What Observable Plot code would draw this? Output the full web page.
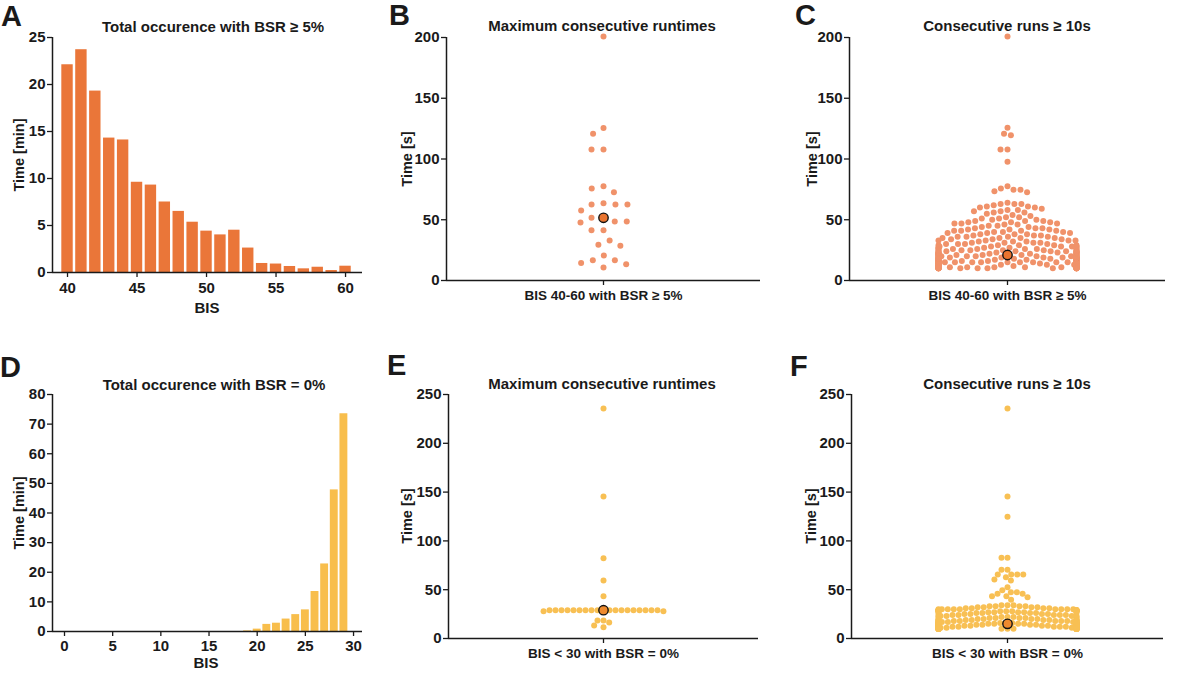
<!DOCTYPE html>
<html>
<head>
<meta charset="utf-8">
<script src="https://cdn.jsdelivr.net/npm/d3@7"></script>
<script src="https://cdn.jsdelivr.net/npm/@observablehq/plot@0.6"></script>
<style>
  body { margin: 0; background: #fff; }
  #root { position: relative; width: 1200px; height: 677px; overflow: hidden; background: #fff;
          font-family: "Liberation Sans", Arial, sans-serif; color: #1a1a1a; }
  .t { position: absolute; white-space: nowrap; font-weight: bold; line-height: 1; }
  .p { position: absolute; }
</style>
</head>
<body>
<div id="root"></div>
<script>
// ---------------- DATA ----------------
// Panel A: total occurrence with BSR >= 5% (minutes per BIS value)
const bisA = [40, 41, 42, 43, 44, 45, 46, 47, 48, 49, 50, 51, 52, 53, 54, 55, 56, 57, 58, 59, 60];
const timeA = [22.1, 23.7, 19.3, 14.3, 14.1, 9.6, 9.3, 7.5, 6.5, 5.35, 4.4, 4.0, 4.5, 2.6, 0.96, 0.9, 0.64, 0.39, 0.56, 0.21, 0.67];

// Panel D: total occurrence with BSR = 0% (minutes per BIS value)
const bisD = [0, 1, 2, 3, 4, 5, 6, 7, 8, 9, 10, 11, 12, 13, 14, 15, 16, 17, 18, 19, 20, 21, 22, 23, 24, 25, 26, 27, 28, 29];
const timeD = [0, 0, 0, 0, 0, 0, 0, 0, 0, 0, 0, 0, 0, 0, 0, 0, 0, 0, 0, 0.2, 0.8, 2.4, 2.8, 4.2, 5.7, 7.3, 13.5, 22.8, 47.8, 73.5];

// Panel B: maximum consecutive runtimes, BIS 40-60 with BSR >= 5% (seconds)
const maxRunsB = [200.8, 125.6, 120.7, 107.8, 107.8, 77.6, 75.7, 72.7, 63.6, 62.5, 62.5, 62.5, 57.6, 52, 51.6,
  48.6, 48.6, 47.7, 41.4, 41.4, 32.9, 29.4, 28.5, 20.6, 16.7, 16.7, 14.5, 13.4, 10.7];

// Panel C: consecutive runs >= 10 s, BIS 40-60 with BSR >= 5% (seconds)
const runsC = [200.8, 125.7, 120.7, 119.6, 107.8, 107.8, 97.7, 77.6, 75.7, 74.6, 74.6, 73.5, 72.7,
  64, 63, 63, 63, 62, 61, 61, 60, 60, 59, 58, 58, 57, 57, 56, 56, 55, 54, 53, 52, 52, 51, 51, 50, 50,
  49, 49, 49, 48, 48, 48, 47, 47, 47, 46, 46, 45, 45, 44, 44, 43, 43, 43, 42, 42, 42, 41, 41, 41, 41, 40, 40, 40,
  39, 39, 39, 38, 38, 38, 37, 37, 37, 36, 36, 36, 36, 35, 35, 35, 35, 34, 34, 34, 33, 33, 33, 33, 32, 32, 32,
  31, 31, 31, 31, 30, 30, 30, 30,
  29, 29, 29, 29, 29, 28, 28, 28, 28, 28, 27, 27, 27, 27, 27, 26, 26, 26, 26, 26, 26, 25, 25, 25, 25, 25, 25,
  24, 24, 24, 24, 24, 24, 24, 23, 23, 23, 23, 23, 23, 23, 22, 22, 22, 22, 22, 22, 22, 22,
  21, 21, 21, 21, 21, 21, 21, 21, 20, 20, 20, 20, 20, 20, 20, 20, 20,
  19, 19, 19, 19, 19, 19, 19, 19, 19, 19, 18, 18, 18, 18, 18, 18, 18, 18, 18, 18, 18,
  17, 17, 17, 17, 17, 17, 17, 17, 17, 17, 17, 17, 16, 16, 16, 16, 16, 16, 16, 16, 16, 16, 16, 16, 16,
  15, 15, 15, 15, 15, 15, 15, 15, 15, 15, 15, 15, 15, 14, 14, 14, 14, 14, 14, 14, 14, 14, 14, 14, 14, 14, 14,
  13, 13, 13, 13, 13, 13, 13, 13, 13, 13, 13, 13, 13, 13, 13, 12, 12, 12, 12, 12, 12, 12, 12, 12, 12, 12, 12, 12, 12, 12, 12,
  11, 11, 11, 11, 11, 11, 11, 11, 11, 11, 11, 11, 11, 11, 11, 11, 11,
  10, 10, 10, 10, 10, 10, 10, 10, 10, 10, 10, 10, 10, 10, 10, 10, 10, 10];

// Panel E: maximum consecutive runtimes, BIS < 30 with BSR = 0% (seconds)
const maxRunsE = [235.7, 145.5, 82.3, 59.4, 43.4,
  29, 29, 29, 29, 29, 29, 29, 29, 29, 29, 29, 29, 29, 29, 29, 29, 29, 29, 29, 28, 28,
  18.4, 18.4, 16.4, 13.3, 11.6];

// Panel F: consecutive runs >= 10 s, BIS < 30 with BSR = 0% (seconds)
const runsF = [235.7, 145.5, 124.7, 82.7, 82.7, 70.4, 70.4, 65.6, 65.6, 65.6, 65.6, 62.8, 60.5, 59.4, 52.6,
  49.5, 47.5, 47.5, 45.8, 45.8, 43.4, 43.4, 42.3, 39.6,
  34, 34, 34, 33, 33, 33, 33, 32, 32, 32, 32, 31, 31, 31, 31,
  30, 30, 30, 30, 30, 30, 30, 30, 30, 29, 29, 29, 29, 29, 29, 29, 29, 29, 29, 28, 28, 28, 28, 28, 28, 28, 28,
  27, 27, 27, 27, 27, 26, 26, 26, 26, 26, 25, 25, 25, 25, 25, 24, 24, 24, 24, 24,
  23, 23, 23, 23, 23, 22, 22, 22, 22, 22, 21, 21, 21, 21, 21, 20, 20, 20, 20, 20,
  19, 19, 19, 19, 19, 19, 19, 19, 19, 18, 18, 18, 18, 18, 18, 18, 18, 18,
  17, 17, 17, 17, 17, 17, 17, 17, 17, 16, 16, 16, 16, 16, 16, 16, 16, 16,
  15, 15, 15, 15, 15, 15, 15, 15, 15, 15, 15, 15, 15, 15, 15, 15, 15, 15, 15, 15, 15,
  14, 14, 14, 14, 14, 14, 14, 14, 14, 14, 14, 14, 14, 14, 14, 14, 14, 14, 14, 14, 14, 14, 14,
  13, 13, 13, 13, 13, 13, 13, 13, 13, 13, 13, 13, 13, 13, 13, 13, 13, 13, 13, 13, 13, 13, 13, 13, 13,
  12, 12, 12, 12, 12, 12, 12, 12, 12, 12, 12, 12, 12, 12, 12, 12, 12, 12, 12, 12, 12, 12, 12, 12, 12, 12, 12,
  11, 11, 11, 11, 11, 11, 11, 11, 11, 11, 11, 11, 11, 11, 11, 11, 11, 11, 11, 11, 11, 11, 11, 11, 11, 11, 11, 11, 11, 11,
  10, 10, 10, 10, 10, 10, 10, 10, 10, 10, 10, 10, 10, 10, 10, 10, 10, 10, 10, 10, 10, 10, 10, 10, 10, 10, 10, 10, 10, 10, 10, 10, 10, 10];

// tick values
const ticksAx = [40, 45, 50, 55, 60];
const ticksAy = [0, 5, 10, 15, 20, 25];
const ticksDx = [0, 5, 10, 15, 20, 25, 30];
const ticksDy = [0, 10, 20, 30, 40, 50, 60, 70, 80];
const ticksBCy = [0, 50, 100, 150, 200];
const ticksEFy = [0, 50, 100, 150, 200, 250];

// ---------------- STYLE ----------------
const FONT = '"Liberation Sans", Arial, Helvetica, sans-serif';
const INK = "#1a1a1a";
const orangeBar = "#EA7639";
const orangeDot = "#F0926A";
const orangeMed = "#E9742F";
const yellowBar = "#F8BE4C";
const yellowDot = "#F8C054";
const yellowMed = "#EE8A2E";

const root = document.getElementById("root");

function place(el, box) {
  el.classList.add("p");
  el.style.left = box.left + "px";
  el.style.top = box.top + "px";
  root.appendChild(el);
}

function dims(svg, frame) {
  return {
    width: svg.w, height: svg.h,
    marginLeft: frame.left - svg.left,
    marginRight: svg.left + svg.w - frame.right,
    marginTop: frame.top - svg.top,
    marginBottom: svg.top + svg.h - frame.bottom,
    style: { fontFamily: FONT, fontSize: "15px", fontWeight: "bold", color: INK, background: "transparent", overflow: "visible" }
  };
}

// swarm (beeswarm) layout from Plot.dodgeX, with points that overflow the
// category width gathered at its edges (like a swarm plot "gutter")
function swarm(options, pad, halfWidth) {
  const dodged = Plot.dodgeX({ anchor: "middle", padding: pad }, options);
  if (typeof Plot.initializer !== "function") return dodged;
  return Plot.initializer(dodged, function (data, facets, channels, scales, d) {
    const X = channels.x.value;
    const c = (d.marginLeft + d.width - d.marginRight) / 2;
    const Xc = Array.from(X, (v) => c + Math.max(-halfWidth, Math.min(halfWidth, v - c)));
    return { data, facets, channels: { x: { value: Xc, source: null } } };
  });
}

function barPanel(cfg) {
  const data = cfg.bis.map((b, i) => ({ bis: b, t: cfg.time[i] }));
  const el = Plot.plot({
    ...dims(cfg.svg, cfg.frame),
    x: { domain: cfg.xDomain },
    y: { domain: cfg.yDomain },
    marks: [
      Plot.rect(data, { x1: d => d.bis - 0.41, x2: d => d.bis + 0.41, y1: 0, y2: "t", fill: cfg.color }),
      Plot.ruleX([cfg.xDomain[0]], { stroke: INK, strokeWidth: 1.5 }),
      Plot.ruleY([cfg.yDomain[0]], { stroke: INK, strokeWidth: 1.5 }),
      Plot.axisX({ ticks: cfg.xTicks, tickSize: 5, tickPadding: cfg.xPad, label: null, strokeWidth: 1.3, fontSize: 15 }),
      Plot.axisY({ ticks: cfg.yTicks, tickSize: 5, tickPadding: 2, label: null, strokeWidth: 1.3, fontSize: 15 })
    ]
  });
  place(el, cfg.svg);
}

function stripPanel(cfg) {
  const med = d3.median(cfg.values);
  const el = Plot.plot({
    ...dims(cfg.svg, cfg.frame),
    x: { domain: [-1, 1] },
    y: { domain: cfg.yDomain },
    marks: [
      Plot.ruleX([-1], { stroke: INK, strokeWidth: 1.5 }),
      Plot.ruleY([cfg.yDomain[0]], { stroke: INK, strokeWidth: 1.5 }),
      Plot.axisX({ ticks: [0], tickFormat: () => cfg.label, tickSize: 5, tickPadding: 5, label: null, strokeWidth: 1.3, fontSize: 13.5 }),
      Plot.axisY({ ticks: cfg.yTicks, tickSize: 5, tickPadding: 2, label: null, strokeWidth: 1.3, fontSize: 15 }),
      Plot.dot(cfg.values, swarm({ y: d => d, r: 3, fill: cfg.color }, cfg.pad, 69)),
      Plot.dot([med], { x: 0, y: d => d, r: 4.7, fill: cfg.medColor, stroke: "#111", strokeWidth: 1.4 })
    ]
  });
  place(el, cfg.svg);
}

function text(str, x, baseline, size, opts = {}) {
  const d = document.createElement("div");
  d.className = "t";
  d.textContent = str;
  d.style.fontSize = size + "px";
  if (opts.rotate) {
    d.style.left = x + "px";
    d.style.top = baseline + "px";
    d.style.transform = "translate(-50%, -50%) rotate(-90deg)";
  } else if (opts.left) {
    d.style.left = x + "px";
    d.style.top = (baseline - 0.8465 * size) + "px";
  } else {
    d.style.left = x + "px";
    d.style.top = (baseline - 0.8465 * size) + "px";
    d.style.transform = "translateX(-50%)";
  }
  root.appendChild(d);
}

// ---------------- PANELS ----------------
barPanel({
  bis: bisA, time: timeA, color: orangeBar,
  svg: { left: 25, top: 20, w: 355, h: 285 },
  frame: { left: 52, right: 362, top: 37, bottom: 272 },
  xDomain: [38.92, 61.22], yDomain: [0, 25], xTicks: ticksAx, yTicks: ticksAy, xPad: 5
});
barPanel({
  bis: bisD, time: timeD, color: yellowBar,
  svg: { left: 25, top: 380, w: 355, h: 280 },
  frame: { left: 52, right: 362, top: 394, bottom: 631 },
  xDomain: [-1.246, 30.93], yDomain: [0, 80], xTicks: ticksDx, yTicks: ticksDy, xPad: 4
});
stripPanel({
  values: maxRunsB, color: orangeDot, medColor: orangeMed, pad: 6,
  svg: { left: 390, top: 20, w: 390, h: 290 },
  frame: { left: 446, right: 760, top: 37, bottom: 280 },
  yDomain: [0, 200], yTicks: ticksBCy, label: "BIS 40-60 with BSR ≥ 5%"
});
stripPanel({
  values: runsC, color: orangeDot, medColor: orangeMed, pad: 1,
  svg: { left: 800, top: 20, w: 395, h: 290 },
  frame: { left: 849, right: 1165, top: 37, bottom: 280 },
  yDomain: [0, 200], yTicks: ticksBCy, label: "BIS 40-60 with BSR ≥ 5%"
});
stripPanel({
  values: maxRunsE, color: yellowDot, medColor: yellowMed, pad: 0,
  svg: { left: 390, top: 380, w: 390, h: 290 },
  frame: { left: 448, right: 758, top: 394, bottom: 638 },
  yDomain: [0, 250], yTicks: ticksEFy, label: "BIS < 30 with BSR = 0%"
});
stripPanel({
  values: runsF, color: yellowDot, medColor: yellowMed, pad: 0,
  svg: { left: 800, top: 380, w: 395, h: 290 },
  frame: { left: 851, right: 1163, top: 394, bottom: 638 },
  yDomain: [0, 250], yTicks: ticksEFy, label: "BIS < 30 with BSR = 0%"
});

// ---------------- TEXT ----------------
// panel letters
text("A", 1, 26.5, 29, { left: true });
text("B", 389, 26, 29, { left: true });
text("C", 795, 26, 29, { left: true });
text("D", 0, 378, 29, { left: true });
text("E", 387, 376, 29, { left: true });
text("F", 790, 377, 29, { left: true });
// titles
text("Total occurence with BSR ≥ 5%", 213, 32, 15);
text("Maximum consecutive runtimes", 602, 31, 15);
text("Consecutive runs ≥ 10s", 1007, 31, 15);
text("Total occurence with BSR = 0%", 214, 390, 15);
text("Maximum consecutive runtimes", 602, 389, 15);
text("Consecutive runs ≥ 10s", 1007, 389, 15);
// x labels of histograms
text("BIS", 207, 313, 15);
text("BIS", 206, 668, 15);
// y labels
text("Time [min]", 19, 154.5, 14.5, { rotate: true });
text("Time [min]", 19, 512.5, 14.5, { rotate: true });
text("Time [s]", 407, 158.5, 14.5, { rotate: true });
text("Time [s]", 812, 158.5, 14.5, { rotate: true });
text("Time [s]", 407, 516, 14.5, { rotate: true });
text("Time [s]", 811, 516, 14.5, { rotate: true });
</script>
</body>
</html>
